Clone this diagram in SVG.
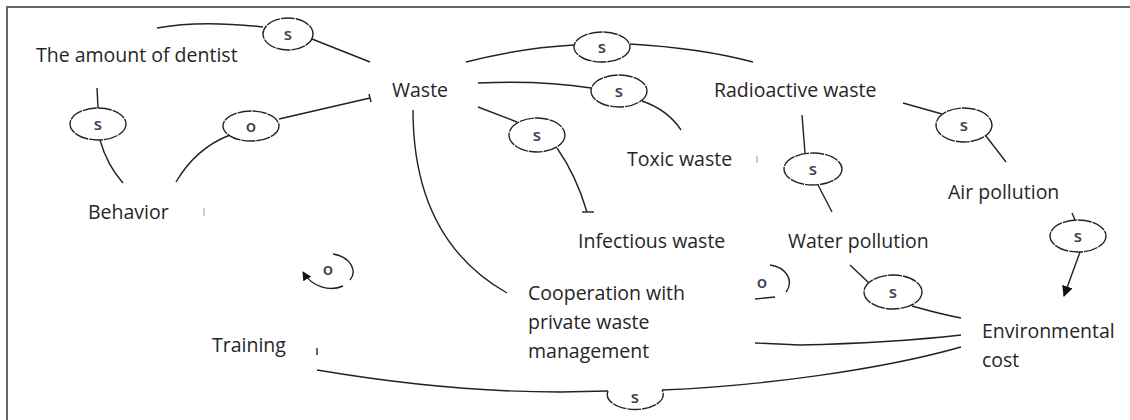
<svg xmlns="http://www.w3.org/2000/svg" width="1130" height="420" viewBox="0 0 1130 420">
<defs>
<style>
.bg{fill:#ffffff}
.frame{fill:none;stroke:#666;stroke-width:2}
.lbl{font-family:"Open Sans","Noto Sans","Liberation Sans",sans-serif;font-size:19.5px;fill:#262626}
.sym{font-family:"Open Sans","Noto Sans","Liberation Sans",sans-serif;font-size:17px;font-weight:600;fill:#3a3f55;text-anchor:middle}
.ell{fill:#ffffff;stroke:#222;stroke-width:1.4;stroke-dasharray:14 1}
.ln{fill:none;stroke:#222;stroke-width:1.4}
.faint{fill:none;stroke:#bbb;stroke-width:1.5}
</style>
<marker id="tri" viewBox="0 0 10 10" refX="9" refY="5" markerWidth="11" markerHeight="11" markerUnits="userSpaceOnUse" orient="auto">
<path d="M0,0 L10,5 L0,10 Z" fill="#111"/>
</marker>
<marker id="tri2" viewBox="0 0 10 10" refX="9" refY="5" markerWidth="9" markerHeight="9" markerUnits="userSpaceOnUse" orient="auto">
<path d="M0,0 L10,5 L0,10 Z" fill="#111"/>
</marker>
</defs>
<rect class="bg" x="0" y="0" width="1130" height="420"/>
<path class="frame" d="M7,420 L7,7 L1130,7"/>

<g id="connectors">
<path class="ln" d="M157,28 Q200,20 263,27"/>
<path class="ln" d="M312,39 L370,62"/>
<path class="ln" d="M97,88 L98,108"/>
<path class="ln" d="M100,140 Q107,165 123,183"/>
<path class="ln" d="M176,182 Q196,148 230,135"/>
<path class="ln" d="M279,119 L370,98"/>
<path class="ln" d="M369,94 L371,102"/>
<path class="ln" d="M466,62 Q520,48 574,45"/>
<path class="ln" d="M630,44 Q700,48 753,62"/>
<path class="ln" d="M478,83 Q540,80 591,88"/>
<path class="ln" d="M642,101 Q668,110 681,130"/>
<path class="ln" d="M478,107 L517,122"/>
<path class="ln" d="M557,148 Q576,175 587,212"/>
<path class="ln" d="M582,212 L594,212"/>
<path class="ln" d="M413,110 C413,190 440,255 507,293"/>
<path class="ln" d="M802,115 L805,153"/>
<path class="ln" d="M818,185 L832,212"/>
<path class="ln" d="M903,103 L942,114"/>
<path class="ln" d="M986,136 L1006,162"/>
<path class="ln" d="M1072,213 L1075,220"/>
<path class="ln" d="M1080,252 L1064,296" marker-end="url(#tri)"/>
<path class="ln" d="M850,265 L869,283"/>
<path class="ln" d="M912,306 Q940,314 961,318"/>
<path class="ln" d="M755,343 L800,345 Q890,343 961,335"/>
<path class="ln" d="M317,370 C400,384 480,392 560,392 L608,391"/>
<path class="ln" d="M662,390 C760,386 880,370 961,347"/>
<path class="ln" d="M317,348 L317,355"/>
<path class="ln" d="M333,254 C352,257 357,272 350,280"/>
<path class="ln" d="M343,286 C330,292 312,287 303,272" marker-end="url(#tri2)"/>
<path class="ln" d="M770,265 C785,267 795,280 786,292"/>
<path class="ln" d="M755,299 L775,297"/>
<path class="faint" d="M204,208 L204,216"/>
<path class="faint" d="M757,156 L757,163"/>
</g>

<g id="n-dentist"><text class="lbl" x="36" y="62">The amount of dentist</text></g>
<g id="n-waste"><text class="lbl" x="392" y="97">Waste</text></g>
<g id="n-radioactive"><text class="lbl" x="714" y="97">Radioactive waste</text></g>
<g id="n-toxic"><text class="lbl" x="627" y="166">Toxic waste</text></g>
<g id="n-air"><text class="lbl" x="948" y="199">Air pollution</text></g>
<g id="n-behavior"><text class="lbl" x="88" y="219">Behavior</text></g>
<g id="n-infectious"><text class="lbl" x="578" y="248">Infectious waste</text></g>
<g id="n-water"><text class="lbl" x="788" y="248">Water pollution</text></g>
<g id="n-cooperation"><text class="lbl" x="528" y="300">Cooperation with</text><text class="lbl" x="528" y="329">private waste</text><text class="lbl" x="528" y="358">management</text></g>
<g id="n-training"><text class="lbl" x="212" y="352">Training</text></g>
<g id="n-env"><text class="lbl" x="982" y="338">Environmental</text><text class="lbl" x="982" y="367">cost</text></g>

<g id="polarity">
<g id="p1"><ellipse class="ell" cx="288" cy="34" rx="25" ry="16"/><text class="sym" x="288" y="40">s</text></g>
<g id="p2"><ellipse class="ell" cx="98" cy="124" rx="28" ry="16"/><text class="sym" x="98" y="130">s</text></g>
<g id="p3"><ellipse class="ell" cx="251" cy="126" rx="28" ry="15"/><text class="sym" x="251" y="132">o</text></g>
<g id="p4"><ellipse class="ell" cx="602" cy="47" rx="28" ry="15"/><text class="sym" x="602" y="53">s</text></g>
<g id="p5"><ellipse class="ell" cx="619" cy="91" rx="28" ry="16"/><text class="sym" x="619" y="97">s</text></g>
<g id="p6"><ellipse class="ell" cx="537" cy="135" rx="28" ry="17"/><text class="sym" x="537" y="141">s</text></g>
<g id="p7"><ellipse class="ell" cx="813" cy="169" rx="29" ry="16"/><text class="sym" x="813" y="175">s</text></g>
<g id="p8"><ellipse class="ell" cx="964" cy="125" rx="28" ry="17"/><text class="sym" x="964" y="131">s</text></g>
<g id="p9"><ellipse class="ell" cx="1078" cy="236" rx="28" ry="16"/><text class="sym" x="1078" y="242">s</text></g>
<g id="p10"><ellipse class="ell" cx="893" cy="292" rx="29" ry="17"/><text class="sym" x="893" y="298">s</text></g>
<g id="p11"><path class="ell" d="M608,391 A28,15 0 1 0 662,390"/><text class="sym" x="635" y="403">s</text></g>
<g id="p12"><text class="sym" x="328" y="275">o</text></g>
<g id="p13"><text class="sym" x="762" y="288">o</text></g>
</g>
</svg>
